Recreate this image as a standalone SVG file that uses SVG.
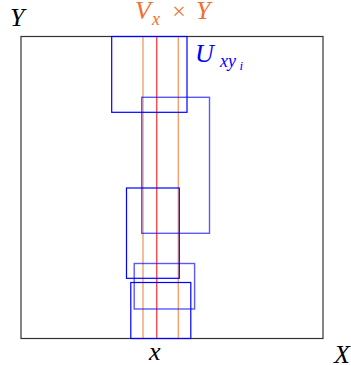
<svg xmlns="http://www.w3.org/2000/svg" width="351" height="365" viewBox="0 0 351 365">
<style>
.t{font-family:"Liberation Serif","DejaVu Serif",serif;font-style:italic;font-size:26px}
.s{font-size:18px}
.ss{font-size:13px}
.blue{fill:none;stroke:#0000ff;stroke-width:1.2}
.blue2{fill:none;stroke:#0000ff;stroke-opacity:0.65;stroke-width:1.4}
</style>
<rect width="351" height="365" fill="#fff"/>
<g id="space">
<rect x="21" y="36.5" width="302" height="302" fill="none" stroke="#333" stroke-width="1.2"/>
</g>
<g id="connectors">
<line x1="143" y1="36.5" x2="143" y2="338.5" stroke="#f08040" stroke-opacity="0.75" stroke-width="1.4"/>
<line x1="178.3" y1="36.5" x2="178.3" y2="338.5" stroke="#f08040" stroke-opacity="0.75" stroke-width="1.4"/>
<line x1="156.7" y1="36.5" x2="156.7" y2="338.5" stroke="#ff2020" stroke-opacity="0.8" stroke-width="1.4"/>
</g>
<g id="U1"><rect class="blue" x="111.7" y="36.5" width="75.3" height="75.8"/></g>
<g id="U2"><rect class="blue2" x="141.7" y="97.3" width="67.8" height="136"/></g>
<g id="U3"><rect class="blue" x="126.5" y="188" width="52.8" height="90.3"/></g>
<g id="U4"><rect class="blue2" x="134.2" y="263.5" width="60.4" height="45.5"/></g>
<g id="U5"><rect class="blue" x="130.8" y="282.5" width="60" height="56"/></g>
<g id="labels">
<text class="t" x="10" y="26" fill="#000">Y</text>
<text class="t" x="135" y="19" fill="#f07030">V</text>
<text class="t s" x="152" y="25" fill="#f07030">x</text>
<text x="179" y="19" fill="#f07030" font-family="Liberation Serif,serif" font-size="24" text-anchor="middle">×</text>
<text class="t" x="196" y="19" fill="#f07030">Y</text>
<text class="t" x="195" y="62" fill="#0000ff">U</text>
<text class="t s" x="220" y="66.5" fill="#0000ff">xy</text>
<text class="t ss" x="239.5" y="70" fill="#0000ff">i</text>
<text class="t" x="149" y="360" fill="#000">x</text>
<text class="t" x="334" y="363" fill="#000">X</text>
</g>
</svg>
